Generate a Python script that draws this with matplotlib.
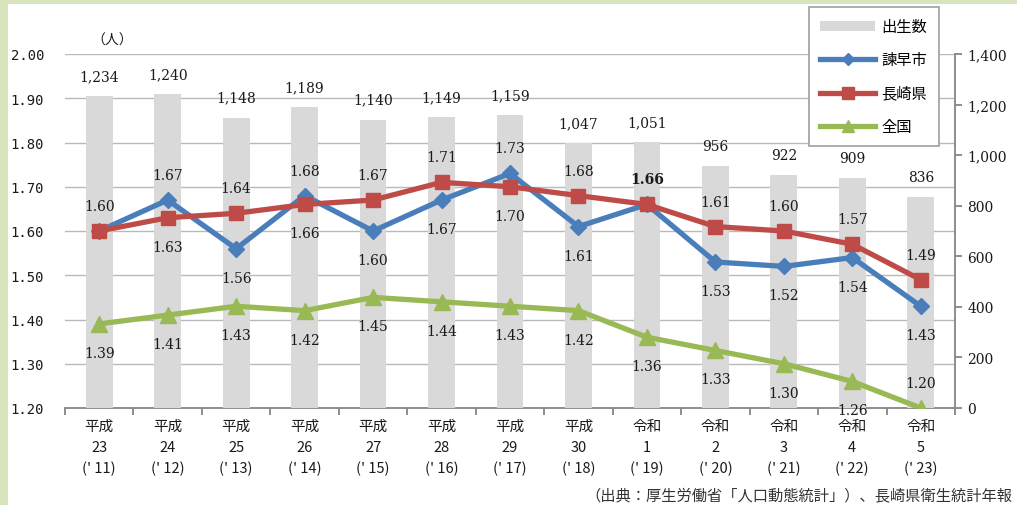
import matplotlib
matplotlib.use("Agg")
import matplotlib.pyplot as plt
import numpy as np
from matplotlib.patches import Rectangle
from matplotlib.lines import Line2D
from matplotlib.patches import Patch

# ---------------- data ----------------
cat_era = ['平成'] * 8 + ['令和'] * 5
cat_year = ['23', '24', '25', '26', '27', '28', '29', '30', '1', '2', '3', '4', '5']
cat_west = ['11', '12', '13', '14', '15', '16', '17', '18', '19', '20', '21', '22', '23']

births = [1234, 1240, 1148, 1189, 1140, 1149, 1159, 1047, 1051, 956, 922, 909, 836]
isahaya = [1.60, 1.67, 1.56, 1.68, 1.60, 1.67, 1.73, 1.61, 1.66, 1.53, 1.52, 1.54, 1.43]
nagasaki = [1.60, 1.63, 1.64, 1.66, 1.67, 1.71, 1.70, 1.68, 1.66, 1.61, 1.60, 1.57, 1.49]
national = [1.39, 1.41, 1.43, 1.42, 1.45, 1.44, 1.43, 1.42, 1.36, 1.33, 1.30, 1.26, 1.20]

left_ticks = [1.20, 1.30, 1.40, 1.50, 1.60, 1.70, 1.80, 1.90, 2.00]
right_ticks = [0, 200, 400, 600, 800, 1000, 1200, 1400]

series_names = ['出生数', '諫早市', '長崎県', '全国']
source_text = '（出典：厚生労働省「人口動態統計」）、長崎県衛生統計年報'
unit_text = '（人）'

# label placement (a = above, b = below, None = hidden)
pos_isahaya = ['a', 'a', 'b', 'a', 'b', 'b', 'a', 'b', None, 'b', 'b', 'b', 'b']
pos_nagasaki = [None, 'b', 'a', 'b', 'a', 'a', 'b', 'a', 'A', 'a', 'a', 'a', 'a']
pos_national = ['b'] * 12 + ['a']

# ---------------- style ----------------
JP = 'Noto Sans CJK JP'
SERIF = 'DejaVu Serif'
MONO = 'DejaVu Sans Mono'
c_bar = '#d9d9d9'
c_blue = '#4a7ebb'
c_red = '#be4b48'
c_green = '#98b954'
c_grid = '#b9b9b9'
c_axis = '#868686'
c_text = '#1a1a1a'

W, H = 1017, 506
fig = plt.figure(figsize=(W / 100, H / 100), dpi=100)
fig.patch.set_facecolor('white')

# green frame band (left and top)
fig.patches.append(Rectangle((0, 0), 8 / W, 1, transform=fig.transFigure,
                             facecolor='#d8e4bc', edgecolor='none', zorder=0))
fig.patches.append(Rectangle((0, 1 - 5 / H), 1, 5 / H, transform=fig.transFigure,
                             facecolor='#d8e4bc', edgecolor='none', zorder=0))

L, R, B, T = 65, 955, 409, 55
rect = [L / W, 1 - B / H, (R - L) / W, (B - T) / H]

x = np.arange(len(births))

# primary axis: gridlines + left ticks
ax = fig.add_axes(rect)
ax.set_xlim(-0.5, len(births) - 0.5)
ax.set_ylim(1.20, 2.00)
ax.set_yticks(left_ticks)
ax.set_yticklabels([f'{v:.2f}' for v in left_ticks], fontfamily=MONO, fontsize=10, color=c_text)
ax.tick_params(axis='y', length=0, pad=15)
ax.yaxis.grid(True, color=c_grid, linewidth=1.0)
ax.set_axisbelow(True)
for s in ['left', 'top', 'right']:
    ax.spines[s].set_visible(False)
ax.spines['bottom'].set_color(c_axis)
ax.spines['bottom'].set_linewidth(1.3)
ax.set_xticks(x)
ax.set_xticklabels([f"{e}\n{y}\n(' {w})" for e, y, w in zip(cat_era, cat_year, cat_west)],
                   fontfamily=JP, fontsize=10.5, color=c_text, linespacing=1.6)
ax.tick_params(axis='x', which='major', length=0, pad=8)
ax.set_xticks(np.arange(-0.5, len(births)), minor=True)
ax.tick_params(axis='x', which='minor', length=5, width=1.3, color=c_axis, direction='out')

# secondary axis: bars + right ticks
ax2 = ax.twinx()
ax2.set_ylim(0, 1400)
ax2.set_yticks(right_ticks)
ax2.set_yticklabels([f'{v:,}' for v in right_ticks], fontfamily=SERIF, fontsize=10, color=c_text)
ax2.tick_params(axis='y', length=5, width=1.3, color=c_axis, pad=4)
for s in ['left', 'top', 'bottom']:
    ax2.spines[s].set_visible(False)
ax2.spines['right'].set_color(c_axis)
ax2.spines['right'].set_linewidth(1.3)
bars = ax2.bar(x, births, width=0.39, color=c_bar, zorder=2)
for xi, v in zip(x, births):
    ax2.annotate(f'{v:,}', (xi, v), xytext=(0, 20), textcoords='offset pixels',
                 ha='center', va='center', fontfamily=SERIF, fontsize=10, color=c_text)

# third axis: lines (on top)
ax3 = ax.twinx()
ax3.set_ylim(1.20, 2.00)
ax3.axis('off')
ax3.set_xlim(-0.5, len(births) - 0.5)

lw = 3.8
l_blue, = ax3.plot(x, isahaya, color=c_blue, lw=lw, marker='D', ms=8, zorder=4, solid_capstyle='round')
l_red, = ax3.plot(x, nagasaki, color=c_red, lw=lw, marker='s', ms=10, zorder=5, solid_capstyle='round')
l_green, = ax3.plot(x, national, color=c_green, lw=lw, marker='^', ms=11, zorder=3, solid_capstyle='round')


def label(vals, poss):
    for xi, v, p in zip(x, vals, poss):
        if p is None:
            continue
        dy = 25 if p in ('a', 'A') else -29
        ax3.annotate(f'{v:.2f}', (xi, v), xytext=(0, dy), textcoords='offset pixels',
                     ha='center', va='center', fontfamily=SERIF, fontsize=10, color=c_text,
                     fontweight='bold' if p == 'A' else 'normal', zorder=6)


label(isahaya, pos_isahaya)
label(nagasaki, pos_nagasaki)
label(national, pos_national)

# legend
handles = [Patch(facecolor=c_bar, edgecolor='none'),
           Line2D([], [], color=c_blue, lw=lw, marker='D', ms=6),
           Line2D([], [], color=c_red, lw=lw, marker='s', ms=8),
           Line2D([], [], color=c_green, lw=lw, marker='^', ms=8)]
leg = fig.legend(handles, series_names, loc='upper left',
                 bbox_to_anchor=(809 / W, 1 - 8 / H), bbox_transform=fig.transFigure,
                 borderaxespad=0, frameon=True, fancybox=False, framealpha=1,
                 edgecolor='#a6a6a6', prop={'family': JP, 'size': 11},
                 handlelength=3.6, handleheight=0.55, handletextpad=0.4,
                 labelspacing=1.05, borderpad=0.75, numpoints=1)
leg.get_frame().set_linewidth(1.3)
leg.set_zorder(20)

# texts
fig.text(112 / W, 1 - 41 / H, unit_text, ha='center', va='center', fontfamily=JP, fontsize=10, color=c_text)
fig.text(1012 / W, 1 - 497 / H, source_text, ha='right', va='center', fontfamily=JP, fontsize=11, color='#333333')

fig.savefig('out.png', dpi=100)
